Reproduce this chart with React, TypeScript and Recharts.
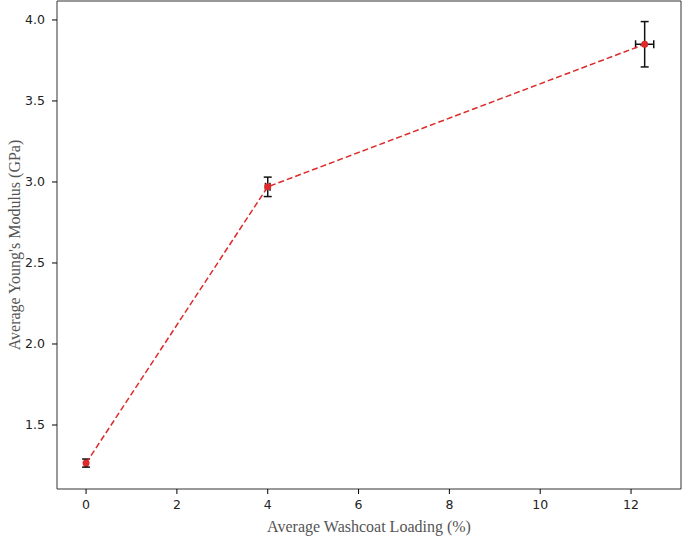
import { ScatterChart, Scatter, XAxis, YAxis, ErrorBar, ReferenceArea, Label } from "recharts";

const loading = [0, 4, 12.3];
const loadingErr = [0.02, 0.05, 0.2];
const modulus = [1.265, 2.97, 3.85];
const modulusErr = [0.025, 0.06, 0.14];
const xTicks = [0, 2, 4, 6, 8, 10, 12];
const yTicks = [1.5, 2.0, 2.5, 3.0, 3.5, 4.0];

const xDomain: [number, number] = [-0.64, 13.1];
const yDomain: [number, number] = [1.105, 4.117];

const data = loading.map((x, i) => ({
  x,
  y: modulus[i],
  xErr: loadingErr[i],
  yErr: modulusErr[i],
}));

const RED = "#dd2a2a";
const tickStyle = { fontFamily: "DejaVu Sans", fontSize: 12.5, fill: "#222" };
const labelFont = "Liberation Serif";

const Dot = (props: any) => <circle cx={props.cx} cy={props.cy} r={3.5} fill={RED} />;

const YTitle = (props: any) => {
  const vb = props.viewBox;
  const cx = vb.x + 14;
  const cy = vb.y + vb.height / 2;
  return (
    <text
      x={cx}
      y={cy}
      transform={`rotate(-90, ${cx}, ${cy})`}
      textAnchor="middle"
      dominantBaseline="central"
      fontFamily={labelFont}
      fontSize={16}
      fill="#555"
    >
      Average Young's Modulus (GPa)
    </text>
  );
};

const App = () => (
  <div style={{ position: "absolute", left: 0, top: 0 }}>
    <ScatterChart width={682} height={537} margin={{ top: 1, right: 1, bottom: 0, left: 0 }}>
      <ReferenceArea
        x1={xDomain[0]}
        x2={xDomain[1]}
        y1={yDomain[0]}
        y2={yDomain[1]}
        fill="none"
        stroke="#333"
        strokeWidth={1}
      />
      <XAxis
        type="number"
        dataKey="x"
        domain={xDomain}
        ticks={xTicks}
        allowDataOverflow
        height={48}
        axisLine={false}
        tickSize={5}
        tickMargin={6}
        tickLine={{ stroke: "#000" }}
        tick={tickStyle}
      >
        <Label
          value="Average Washcoat Loading (%)"
          position="insideBottom"
          offset={5}
          style={{ fontFamily: labelFont, fontSize: 16, fill: "#555" }}
        />
      </XAxis>
      <YAxis
        type="number"
        dataKey="y"
        domain={yDomain}
        ticks={yTicks}
        allowDataOverflow
        width={57}
        axisLine={false}
        tickSize={5}
        tickMargin={7}
        tickLine={{ stroke: "#000" }}
        tick={tickStyle}
        tickFormatter={(v: number) => v.toFixed(1)}
      >
        <Label content={YTitle} />
      </YAxis>
      <Scatter
        data={data}
        line={{ stroke: RED, strokeWidth: 1.5, strokeDasharray: "6 3" }}
        lineType="joint"
        shape={Dot}
        isAnimationActive={false}
      >
        <ErrorBar dataKey="yErr" direction="y" width={4} stroke="#111" strokeWidth={1.5} />
        <ErrorBar dataKey="xErr" direction="x" width={4} stroke="#111" strokeWidth={1.5} />
      </Scatter>
    </ScatterChart>
  </div>
);

export default App;
